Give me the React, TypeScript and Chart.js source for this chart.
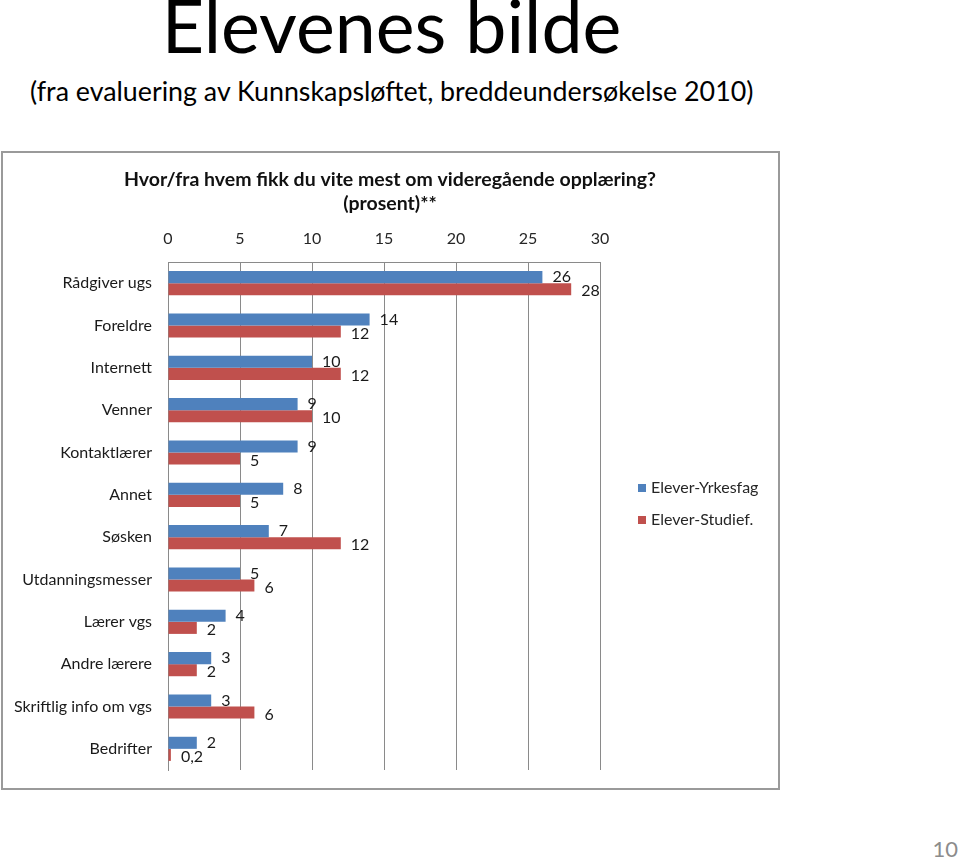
import React, { useEffect, useRef } from "react";
import { Chart, registerables } from "chart.js";

Chart.register(...registerables);

const categories = [
  "Rådgiver ugs",
  "Foreldre",
  "Internett",
  "Venner",
  "Kontaktlærer",
  "Annet",
  "Søsken",
  "Utdanningsmesser",
  "Lærer vgs",
  "Andre lærere",
  "Skriftlig info om vgs",
  "Bedrifter",
];
const yrkesfag = [26, 14, 10, 9, 9, 8, 7, 5, 4, 3, 3, 2];
const studief = [28, 12, 12, 10, 5, 5, 12, 6, 2, 2, 6, 0.2];
const seriesNames = ["Elever-Yrkesfag", "Elever-Studief."];
const chartTitle = [
  "Hvor/fra hvem fikk du vite mest om videregående opplæring?",
  "(prosent)**",
];
const xTicks = [0, 5, 10, 15, 20, 25, 30];

const BLUE = "#4F81BD";
const RED = "#C0504D";
const FONT = "Lato";

const fmt = (v: number) => String(v).replace(".", ",");

const customPlugin = {
  id: "custom",
  afterDraw(chart: any) {
    const ctx = chart.ctx;
    ctx.save();
    // title
    ctx.fillStyle = "#111";
    ctx.font = `bold 19.5px ${FONT}`;
    ctx.textAlign = "center";
    ctx.textBaseline = "middle";
    chartTitle.forEach((t, i) => ctx.fillText(t, chart.width / 2, 28 + i * 24));
    // data labels
    ctx.font = `16px ${FONT}`;
    ctx.fillStyle = "#1a1a1a";
    ctx.textAlign = "left";
    chart.data.datasets.forEach((ds: any, di: number) => {
      const meta = chart.getDatasetMeta(di);
      meta.data.forEach((el: any, i: number) => {
        ctx.fillText(fmt(ds.data[i]), el.x + 10, el.y + (di === 0 ? 0 : 2));
      });
    });
    // legend
    const colors = [BLUE, RED];
    seriesNames.forEach((n, i) => {
      const cy = 336 + i * 32;
      ctx.fillStyle = colors[i];
      ctx.fillRect(636, cy - 4, 8, 8);
      ctx.fillStyle = "#262626";
      ctx.font = `16px ${FONT}`;
      ctx.textBaseline = "middle";
      ctx.fillText(n, 649, cy);
    });
    ctx.restore();
  },
};

function BarChart() {
  const ref = useRef<HTMLCanvasElement>(null);
  useEffect(() => {
    const chart = new Chart(ref.current as HTMLCanvasElement, {
      type: "bar",
      data: {
        labels: categories,
        datasets: [
          { label: seriesNames[0], data: yrkesfag, backgroundColor: BLUE },
          { label: seriesNames[1], data: studief, backgroundColor: RED },
        ],
      },
      options: {
        indexAxis: "y",
        animation: false,
        responsive: false,
        layout: { padding: { top: 64, right: 178, bottom: 18, left: 0 } },
        datasets: { bar: { barPercentage: 1, categoryPercentage: 0.57 } } as any,
        plugins: {
          title: { display: false },
          legend: { display: false },
          tooltip: { enabled: false },
        },
        scales: {
          x: {
            position: "top",
            min: 0,
            max: 30,
            afterFit: (s: any) => {
              s.height = 46;
            },
            afterBuildTicks: (s: any) => {
              s.ticks = xTicks.map((v) => ({ value: v }));
            },
            ticks: {
              padding: 14,
              color: "#262626",
              font: { family: FONT, size: 16 },
            },
            grid: { color: "#8a8a8a", drawTicks: false },
            border: { color: "#8a8a8a" },
          },
          y: {
            afterFit: (s: any) => {
              s.width = 166;
              s.paddingTop = 0;
              s.paddingBottom = 0;
            },
            ticks: {
              padding: 16,
              color: "#1a1a1a",
              font: { family: FONT, size: 16 },
            },
            grid: { display: false, drawTicks: false },
            border: { color: "#8a8a8a" },
          },
        },
      },
      plugins: [customPlugin],
    });
    return () => chart.destroy();
  }, []);
  return (
    <canvas
      ref={ref}
      width={776}
      height={636}
      style={{ position: "absolute", left: 2, top: 152, width: 776, height: 636 }}
    />
  );
}

export default function App() {
  return (
    <div
      style={{
        position: "absolute",
        left: 0,
        top: 0,
        width: 960,
        height: 860,
        background: "#fff",
        fontFamily: FONT,
        overflow: "hidden",
      }}
    >
      <div
        style={{
          position: "absolute",
          left: 0,
          top: -12,
          width: 783,
          textAlign: "center",
          fontSize: 73.5,
          lineHeight: 1,
          color: "#000",
          whiteSpace: "nowrap",
        }}
      >
        Elevenes bilde
      </div>
      <div
        style={{
          position: "absolute",
          left: 30,
          top: 78,
          fontSize: 26.8,
          lineHeight: 1,
          color: "#000",
          whiteSpace: "nowrap",
        }}
      >
        (fra evaluering av Kunnskapsløftet, breddeundersøkelse 2010)
      </div>
      <div
        style={{
          position: "absolute",
          left: 1,
          top: 151,
          width: 779,
          height: 639,
          border: "2px solid #9a9a9a",
          boxSizing: "border-box",
        }}
      />
      <BarChart />
      <div
        style={{
          position: "absolute",
          right: 2,
          top: 838,
          fontSize: 22,
          lineHeight: 1,
          color: "#8c8c8c",
        }}
      >
        10
      </div>
    </div>
  );
}
